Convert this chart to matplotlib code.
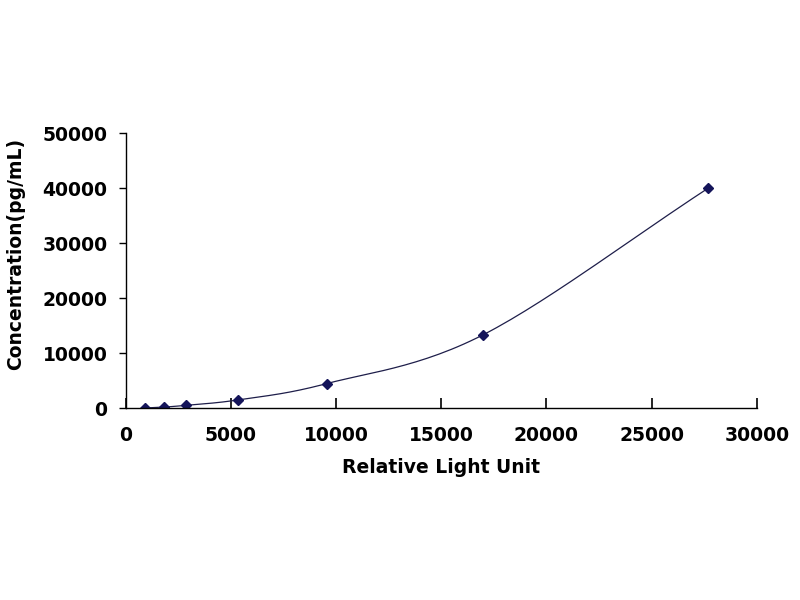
import numpy as np
import matplotlib.pyplot as plt

plt.rcParams['font.family'] = ['DejaVu Sans']

# standard curve data
rlu = [930, 1840, 2870, 5360, 9560, 17000, 27690]
conc = [0, 165, 494, 1481, 4444, 13333, 40000]

x_ticks = [0, 5000, 10000, 15000, 20000, 25000, 30000]
y_ticks = [0, 10000, 20000, 30000, 40000, 50000]


def smooth_line(xs, ys, n=30):
    # catmull-rom style smoothing like excel's smoothed line
    xs = np.asarray(xs, float)
    ys = np.asarray(ys, float)
    px = np.concatenate([[2 * xs[0] - xs[1]], xs, [2 * xs[-1] - xs[-2]]])
    py = np.concatenate([[2 * ys[0] - ys[1]], ys, [2 * ys[-1] - ys[-2]]])
    outx, outy = [], []
    t = np.linspace(0, 1, n)
    for i in range(1, len(px) - 2):
        for p, out in ((px, outx), (py, outy)):
            p0, p1, p2, p3 = p[i - 1], p[i], p[i + 1], p[i + 2]
            out.extend(0.5 * (2 * p1 + (-p0 + p2) * t
                              + (2 * p0 - 5 * p1 + 4 * p2 - p3) * t ** 2
                              + (-p0 + 3 * p1 - 3 * p2 + p3) * t ** 3))
    return outx, outy


fig = plt.figure(figsize=(8, 6), dpi=100)
ax = fig.add_axes([0.157, 0.32, 0.789, 0.458])

sx, sy = smooth_line(rlu, conc)
ax.plot(sx, sy, color='#1e1e4a', lw=0.9)
ax.plot(rlu, conc, linestyle='none', marker='D', ms=5, color='#14145a')

ax.set_xlim(0, 30000)
ax.set_ylim(0, 50000)
ax.set_xticks(x_ticks)
ax.set_yticks(y_ticks)

for s in ['top', 'right']:
    ax.spines[s].set_visible(False)
ax.spines['left'].set_linewidth(1.0)
ax.spines['bottom'].set_linewidth(1.0)

ax.tick_params(axis='x', direction='in', length=7, width=1.2, labelsize=13.5, pad=13)
ax.tick_params(axis='y', direction='out', length=5, width=1.0, labelsize=13.5, pad=8)
for lab in ax.get_xticklabels() + ax.get_yticklabels():
    lab.set_fontweight('bold')

ax.set_xlabel('Relative Light Unit', fontsize=13.5, fontweight='bold', labelpad=9)
ax.set_ylabel('Concentration(pg/mL)', fontsize=13.5, fontweight='bold')
ax.yaxis.set_label_coords(-0.159, 0.56)

fig.savefig('out.png', dpi=100)
